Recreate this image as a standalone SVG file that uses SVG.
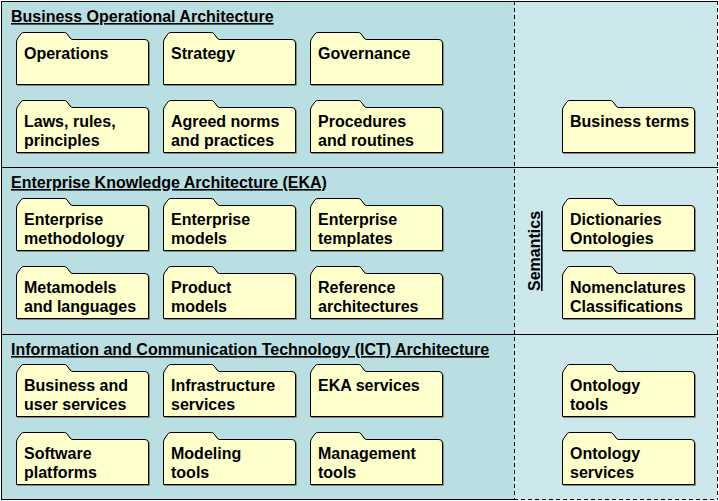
<svg xmlns="http://www.w3.org/2000/svg" xmlns:xlink="http://www.w3.org/1999/xlink" width="719" height="501" viewBox="0 0 719 501">
<style>
.pl{fill:#B9DFE3;stroke:none}
.pr{fill:#CDE8EC;stroke:none}
.ln{stroke:#000;stroke-width:1;fill:none}
.dl{stroke:#000;stroke-width:1;fill:none;stroke-dasharray:4 3}
.f{fill:#FFFFCC;stroke:#000;stroke-width:1}
.fs{fill:none;stroke:#8a8a6a;stroke-width:1}
text{font-family:"Liberation Sans",Arial,sans-serif;font-size:16px;font-weight:bold;fill:#000}
.t{text-decoration:underline}
</style>
<defs>
<path id="fold" d="M0.5,52.5 V10 Q0.5,8 2,6 L5,1.8 Q6,0.5 8,0.5 H48 Q50,0.5 51,1.8 L54,6 Q55,7.5 57,7.5 H129 Q132.5,7.5 132.5,11 V52.5 Z"/>
</defs>
<rect class="pr" x="514" y="1" width="203" height="499"/>
<rect class="pl" x="1" y="1" width="513.5" height="499"/>
<line class="ln" x1="1" y1="1.5" x2="717.5" y2="1.5"/>
<line class="ln" x1="1.5" y1="1" x2="1.5" y2="500"/>
<line class="ln" x1="1" y1="499.5" x2="514" y2="499.5"/>
<line class="dl" x1="717.5" y1="1" x2="717.5" y2="499.5"/>
<line class="dl" x1="514" y1="499.5" x2="717.5" y2="499.5"/>
<line class="dl" x1="514.5" y1="1" x2="514.5" y2="500"/>
<line class="ln" x1="1" y1="167.5" x2="718" y2="167.5"/>
<line class="ln" x1="1" y1="334.5" x2="718" y2="334.5"/>
<text class="t" x="11" y="22">Business Operational Architecture</text>
<text class="t" x="11" y="188">Enterprise Knowledge Architecture (EKA)</text>
<text class="t" x="11" y="355">Information and Communication Technology (ICT) Architecture</text>
<text class="t" transform="translate(540,291) rotate(-90)">Semantics</text>
<g id="connectors"></g>
<g id="operations" transform="translate(16,32)"><use xlink:href="#fold" class="fs" x="1" y="1"/><use xlink:href="#fold" class="f"/><text x="8" y="27">Operations</text></g>
<g id="strategy" transform="translate(163,32)"><use xlink:href="#fold" class="fs" x="1" y="1"/><use xlink:href="#fold" class="f"/><text x="8" y="27">Strategy</text></g>
<g id="governance" transform="translate(310,32)"><use xlink:href="#fold" class="fs" x="1" y="1"/><use xlink:href="#fold" class="f"/><text x="8" y="27">Governance</text></g>
<g id="laws" transform="translate(16,100)"><use xlink:href="#fold" class="fs" x="1" y="1"/><use xlink:href="#fold" class="f"/><text x="8" y="27">Laws, rules,</text><text x="8" y="46">principles</text></g>
<g id="norms" transform="translate(163,100)"><use xlink:href="#fold" class="fs" x="1" y="1"/><use xlink:href="#fold" class="f"/><text x="8" y="27">Agreed norms</text><text x="8" y="46">and practices</text></g>
<g id="procedures" transform="translate(310,100)"><use xlink:href="#fold" class="fs" x="1" y="1"/><use xlink:href="#fold" class="f"/><text x="8" y="27">Procedures</text><text x="8" y="46">and routines</text></g>
<g id="business-terms" transform="translate(562,100)"><use xlink:href="#fold" class="fs" x="1" y="1"/><use xlink:href="#fold" class="f"/><text x="8" y="27">Business terms</text></g>
<g id="ent-methodology" transform="translate(16,198)"><use xlink:href="#fold" class="fs" x="1" y="1"/><use xlink:href="#fold" class="f"/><text x="8" y="27">Enterprise</text><text x="8" y="46">methodology</text></g>
<g id="ent-models" transform="translate(163,198)"><use xlink:href="#fold" class="fs" x="1" y="1"/><use xlink:href="#fold" class="f"/><text x="8" y="27">Enterprise</text><text x="8" y="46">models</text></g>
<g id="ent-templates" transform="translate(310,198)"><use xlink:href="#fold" class="fs" x="1" y="1"/><use xlink:href="#fold" class="f"/><text x="8" y="27">Enterprise</text><text x="8" y="46">templates</text></g>
<g id="dictionaries" transform="translate(562,198)"><use xlink:href="#fold" class="fs" x="1" y="1"/><use xlink:href="#fold" class="f"/><text x="8" y="27">Dictionaries</text><text x="8" y="46">Ontologies</text></g>
<g id="metamodels" transform="translate(16,266)"><use xlink:href="#fold" class="fs" x="1" y="1"/><use xlink:href="#fold" class="f"/><text x="8" y="27">Metamodels</text><text x="8" y="46">and languages</text></g>
<g id="product-models" transform="translate(163,266)"><use xlink:href="#fold" class="fs" x="1" y="1"/><use xlink:href="#fold" class="f"/><text x="8" y="27">Product</text><text x="8" y="46">models</text></g>
<g id="reference-arch" transform="translate(310,266)"><use xlink:href="#fold" class="fs" x="1" y="1"/><use xlink:href="#fold" class="f"/><text x="8" y="27">Reference</text><text x="8" y="46">architectures</text></g>
<g id="nomenclatures" transform="translate(562,266)"><use xlink:href="#fold" class="fs" x="1" y="1"/><use xlink:href="#fold" class="f"/><text x="8" y="27">Nomenclatures</text><text x="8" y="46">Classifications</text></g>
<g id="business-user-services" transform="translate(16,364)"><use xlink:href="#fold" class="fs" x="1" y="1"/><use xlink:href="#fold" class="f"/><text x="8" y="27">Business and</text><text x="8" y="46">user services</text></g>
<g id="infrastructure-services" transform="translate(163,364)"><use xlink:href="#fold" class="fs" x="1" y="1"/><use xlink:href="#fold" class="f"/><text x="8" y="27">Infrastructure</text><text x="8" y="46">services</text></g>
<g id="eka-services" transform="translate(310,364)"><use xlink:href="#fold" class="fs" x="1" y="1"/><use xlink:href="#fold" class="f"/><text x="8" y="27">EKA services</text></g>
<g id="ontology-tools" transform="translate(562,364)"><use xlink:href="#fold" class="fs" x="1" y="1"/><use xlink:href="#fold" class="f"/><text x="8" y="27">Ontology</text><text x="8" y="46">tools</text></g>
<g id="software-platforms" transform="translate(16,432)"><use xlink:href="#fold" class="fs" x="1" y="1"/><use xlink:href="#fold" class="f"/><text x="8" y="27">Software</text><text x="8" y="46">platforms</text></g>
<g id="modeling-tools" transform="translate(163,432)"><use xlink:href="#fold" class="fs" x="1" y="1"/><use xlink:href="#fold" class="f"/><text x="8" y="27">Modeling</text><text x="8" y="46">tools</text></g>
<g id="management-tools" transform="translate(310,432)"><use xlink:href="#fold" class="fs" x="1" y="1"/><use xlink:href="#fold" class="f"/><text x="8" y="27">Management</text><text x="8" y="46">tools</text></g>
<g id="ontology-services" transform="translate(562,432)"><use xlink:href="#fold" class="fs" x="1" y="1"/><use xlink:href="#fold" class="f"/><text x="8" y="27">Ontology</text><text x="8" y="46">services</text></g>
</svg>
